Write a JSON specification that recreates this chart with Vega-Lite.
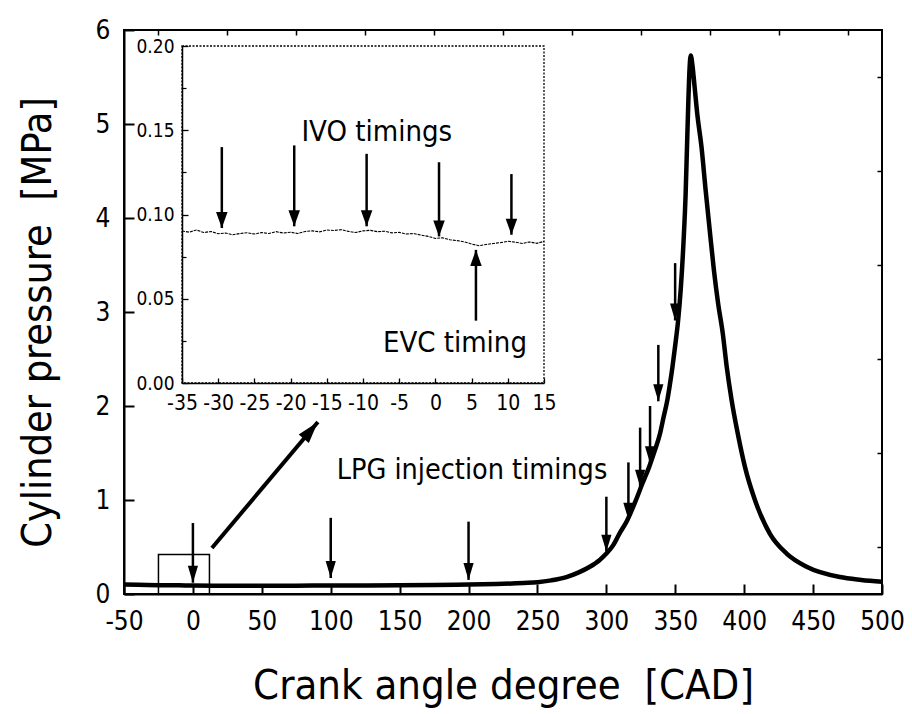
{
  "$schema": "https://vega.github.io/schema/vega-lite/v6.json",
  "width": 758,
  "height": 564,
  "autosize": {"type": "none"},
  "padding": {"left": 124, "top": 30, "right": 30, "bottom": 120},
  "background": "white",
  "datasets": {
    "curve": [
      {"cad": -50, "p": 0.100}, {"cad": -40, "p": 0.098}, {"cad": -25, "p": 0.094}, {"cad": -10, "p": 0.092},
      {"cad": 0, "p": 0.090}, {"cad": 15, "p": 0.089}, {"cad": 30, "p": 0.089}, {"cad": 50, "p": 0.089},
      {"cad": 75, "p": 0.089}, {"cad": 100, "p": 0.090}, {"cad": 125, "p": 0.091}, {"cad": 150, "p": 0.093},
      {"cad": 175, "p": 0.096}, {"cad": 200, "p": 0.100}, {"cad": 220, "p": 0.106}, {"cad": 240, "p": 0.117},
      {"cad": 250, "p": 0.125}, {"cad": 260, "p": 0.145}, {"cad": 271, "p": 0.18}, {"cad": 280, "p": 0.23},
      {"cad": 288, "p": 0.29}, {"cad": 295, "p": 0.36}, {"cad": 300, "p": 0.43}, {"cad": 305, "p": 0.52},
      {"cad": 309.4, "p": 0.64}, {"cad": 315, "p": 0.78}, {"cad": 321.5, "p": 1.00}, {"cad": 326, "p": 1.17},
      {"cad": 331, "p": 1.35}, {"cad": 335, "p": 1.52}, {"cad": 339, "p": 1.71}, {"cad": 341.5, "p": 1.88},
      {"cad": 344.2, "p": 2.06}, {"cad": 346, "p": 2.22}, {"cad": 348, "p": 2.42}, {"cad": 350, "p": 2.65},
      {"cad": 352, "p": 2.90}, {"cad": 354, "p": 3.25}, {"cad": 356, "p": 3.75}, {"cad": 357.5, "p": 4.25},
      {"cad": 358.5, "p": 4.75}, {"cad": 359.5, "p": 5.25}, {"cad": 360.4, "p": 5.6}, {"cad": 361.2, "p": 5.73},
      {"cad": 362.5, "p": 5.62}, {"cad": 364, "p": 5.40}, {"cad": 366, "p": 5.10}, {"cad": 369, "p": 4.76},
      {"cad": 372, "p": 4.30}, {"cad": 375, "p": 3.87}, {"cad": 378, "p": 3.45}, {"cad": 381.2, "p": 3.08},
      {"cad": 384.4, "p": 2.78}, {"cad": 387.3, "p": 2.42}, {"cad": 390.9, "p": 2.06}, {"cad": 395.3, "p": 1.71},
      {"cad": 400.6, "p": 1.35}, {"cad": 407.8, "p": 1.00}, {"cad": 418.7, "p": 0.64}, {"cad": 430.8, "p": 0.43},
      {"cad": 445.3, "p": 0.29}, {"cad": 469.5, "p": 0.18}, {"cad": 485, "p": 0.15}, {"cad": 500, "p": 0.13}
    ],
    "arrows": [
      {"cad": 0, "top": 0.755, "tip": 0.12},
      {"cad": 100, "top": 0.81, "tip": 0.17},
      {"cad": 200, "top": 0.77, "tip": 0.15},
      {"cad": 300, "top": 1.035, "tip": 0.45},
      {"cad": 316, "top": 1.40, "tip": 0.79},
      {"cad": 324.5, "top": 1.77, "tip": 1.14},
      {"cad": 331.7, "top": 2.0, "tip": 1.39},
      {"cad": 337.7, "top": 2.65, "tip": 2.05},
      {"cad": 349.9, "top": 3.52, "tip": 2.91}
    ],
    "zoombox": [{"x1": -25, "x2": 12, "y1": 0, "y2": 0.42}],
    "bigarrow": [{"x1": 13.8, "y1": 0.49, "x2": 90.7, "y2": 1.83}],
    "mainlabel": [{"cad": 202.5, "p": 1.32, "text": "LPG injection timings"}],
    "inset": [
      {"ca": -35, "v": 0.0902}, {"ca": -34, "v": 0.0895}, {"ca": -33, "v": 0.0908}, {"ca": -32, "v": 0.0893},
      {"ca": -31, "v": 0.0899}, {"ca": -30, "v": 0.0886}, {"ca": -29, "v": 0.0890}, {"ca": -28, "v": 0.0880},
      {"ca": -27, "v": 0.0887}, {"ca": -26, "v": 0.0892}, {"ca": -25, "v": 0.0884}, {"ca": -24, "v": 0.0893},
      {"ca": -23, "v": 0.0887}, {"ca": -22, "v": 0.0898}, {"ca": -21, "v": 0.0890}, {"ca": -20, "v": 0.0895},
      {"ca": -19, "v": 0.0887}, {"ca": -18, "v": 0.0899}, {"ca": -17, "v": 0.0903}, {"ca": -16, "v": 0.0897},
      {"ca": -15, "v": 0.0908}, {"ca": -14, "v": 0.0905}, {"ca": -13, "v": 0.0910}, {"ca": -12, "v": 0.0900},
      {"ca": -11, "v": 0.0893}, {"ca": -10, "v": 0.0903}, {"ca": -9, "v": 0.0906}, {"ca": -8, "v": 0.0898},
      {"ca": -7, "v": 0.0901}, {"ca": -6, "v": 0.0891}, {"ca": -5, "v": 0.0894}, {"ca": -4, "v": 0.0884},
      {"ca": -3, "v": 0.0887}, {"ca": -2, "v": 0.0878}, {"ca": -1, "v": 0.0870}, {"ca": 0, "v": 0.0858},
      {"ca": 1, "v": 0.0862}, {"ca": 2, "v": 0.0850}, {"ca": 3, "v": 0.0845}, {"ca": 4, "v": 0.0838},
      {"ca": 5, "v": 0.0825}, {"ca": 6, "v": 0.0815}, {"ca": 7, "v": 0.0822}, {"ca": 8, "v": 0.0828},
      {"ca": 9, "v": 0.0833}, {"ca": 10, "v": 0.0841}, {"ca": 11, "v": 0.0836}, {"ca": 12, "v": 0.0828},
      {"ca": 13, "v": 0.0837}, {"ca": 14, "v": 0.0829}, {"ca": 15, "v": 0.0840}
    ],
    "insetframe": [{"x1": -35, "x2": 15, "y1": 0, "y2": 0.2}],
    "insetarrows": [
      {"ca": -29.5, "top": 0.140, "tip": 0.092},
      {"ca": -19.5, "top": 0.141, "tip": 0.093},
      {"ca": -9.5, "top": 0.136, "tip": 0.093},
      {"ca": 0.5, "top": 0.131, "tip": 0.087},
      {"ca": 10.5, "top": 0.124, "tip": 0.088}
    ],
    "evc": [{"ca": 5.6, "bottom": 0.037, "tip": 0.079}],
    "insetlabels": [
      {"ca": -8.1, "v": 0.149, "text": "IVO timings"},
      {"ca": 2.7, "v": 0.0237, "text": "EVC timing"}
    ]
  },
  "layer": [
    {
      "layer": [
        {
          "data": {"name": "curve"},
          "mark": {"type": "line", "color": "black", "strokeWidth": 4.5, "strokeJoin": "round", "interpolate": "monotone"},
          "encoding": {
            "x": {"field": "cad", "type": "quantitative",
              "scale": {"domain": [-50, 500], "nice": false, "zero": false},
              "axis": {"values": [-50, 0, 50, 100, 150, 200, 250, 300, 350, 400, 450, 500],
                "labelExpr": "datum.value < 0 ? '-' + abs(datum.value) : '' + datum.value",
                "tickSize": -10, "tickWidth": 2, "domainWidth": 2, "labelFontSize": 26, "labelPadding": 24,
                "labelFlush": false, "labelOverlap": false,
                "title": "Crank angle degree \u00a0[CAD]", "titleFontSize": 41.5, "titleY": 104, "titleBaseline": "alphabetic"}},
            "y": {"field": "p", "type": "quantitative",
              "scale": {"domain": [0, 6], "nice": false},
              "axis": {"values": [0, 1, 2, 3, 4, 5, 6],
                "tickSize": -10, "tickWidth": 2, "domainWidth": 2, "labelFontSize": 26, "labelPadding": 24,
                "labelFlush": false, "labelOverlap": false,
                "title": "Cylinder pressure \u00a0[MPa]", "titleFontSize": 41, "titleX": -74, "titleY": 292,
                "titleAngle": 270, "titleAlign": "center", "titleBaseline": "alphabetic"}}
          }
        },
        {
          "data": {"name": "arrows"},
          "mark": {"type": "rule", "color": "black", "strokeWidth": 2.5},
          "encoding": {
            "x": {"field": "cad", "type": "quantitative",
              "scale": {"domain": [-50, 500], "nice": false, "zero": false},
              "axis": {"values": [-25, 25, 75, 125, 175, 225, 275, 325, 375, 425, 475],
                "tickSize": -5, "tickWidth": 1.5, "domain": false, "labels": false, "title": null}},
            "y": {"field": "top", "type": "quantitative",
              "scale": {"domain": [0, 6], "nice": false},
              "axis": {"values": [0.5, 1.5, 2.5, 3.5, 4.5, 5.5],
                "tickSize": -5, "tickWidth": 1.5, "domain": false, "labels": false, "title": null}},
            "y2": {"field": "tip"}
          }
        },
        {
          "data": {"name": "arrows"},
          "mark": {"type": "point", "shape": "M0,0 L-0.3,-1 L0.3,-1 Z", "filled": true, "color": "black", "size": 1156, "opacity": 1},
          "encoding": {
            "x": {"field": "cad", "type": "quantitative", "axis": null},
            "y": {"field": "tip", "type": "quantitative", "axis": null}
          }
        },
        {
          "data": {"name": "zoombox"},
          "mark": {"type": "rect", "fillOpacity": 0, "stroke": "black", "strokeWidth": 1.5},
          "encoding": {
            "x": {"field": "x1", "type": "quantitative", "axis": null},
            "x2": {"field": "x2"},
            "y": {"field": "y1", "type": "quantitative", "axis": null},
            "y2": {"field": "y2"}
          }
        },
        {
          "data": {"name": "bigarrow"},
          "mark": {"type": "rule", "color": "black", "strokeWidth": 4},
          "encoding": {
            "x": {"field": "x1", "type": "quantitative", "axis": null},
            "x2": {"field": "x2"},
            "y": {"field": "y1", "type": "quantitative", "axis": null},
            "y2": {"field": "y2"}
          }
        },
        {
          "data": {"name": "bigarrow"},
          "mark": {"type": "point", "shape": "M0,0 L-0.3,-1 L0.3,-1 Z", "filled": true, "color": "black", "size": 1936, "angle": 220, "opacity": 1},
          "encoding": {
            "x": {"field": "x2", "type": "quantitative", "axis": null},
            "y": {"field": "y2", "type": "quantitative", "axis": null}
          }
        },
        {
          "data": {"name": "mainlabel"},
          "mark": {"type": "text", "fontSize": 28.5, "color": "black", "align": "center", "baseline": "middle"},
          "encoding": {
            "x": {"field": "cad", "type": "quantitative", "axis": null},
            "y": {"field": "p", "type": "quantitative", "axis": null},
            "text": {"field": "text"}
          }
        }
      ],
      "resolve": {"axis": {"x": "independent", "y": "independent"}}
    },
    {
      "layer": [
        {
          "data": {"name": "insetframe"},
          "mark": {"type": "rect", "fillOpacity": 0, "stroke": "black", "strokeWidth": 1.3, "strokeDash": [2, 1.5]},
          "encoding": {
            "x": {"field": "x1", "type": "quantitative",
              "scale": {"domain": [-35, 15], "range": [58, 420], "nice": false, "zero": false}, "axis": null},
            "x2": {"field": "x2"},
            "y": {"field": "y1", "type": "quantitative",
              "scale": {"domain": [0, 0.2], "range": [353, 16], "nice": false}, "axis": null},
            "y2": {"field": "y2"}
          }
        },
        {
          "data": {"name": "inset"},
          "mark": {"type": "line", "color": "black", "strokeWidth": 1.1, "strokeDash": [3, 1]},
          "encoding": {
            "x": {"field": "ca", "type": "quantitative",
              "scale": {"domain": [-35, 15], "range": [58, 420], "nice": false, "zero": false},
              "axis": {"orient": "bottom", "offset": -211, "values": [-35, -30, -25, -20, -15, -10, -5, 0, 5, 10, 15],
                "labelExpr": "datum.value < 0 ? '-' + abs(datum.value) : '' + datum.value",
                "tickSize": -5, "tickWidth": 1.3, "domainWidth": 1.5, "labelFontSize": 21, "labelPadding": 14,
                "labelFlush": false, "labelOverlap": false, "title": null}},
            "y": {"field": "v", "type": "quantitative",
              "scale": {"domain": [0, 0.2], "range": [353, 16], "nice": false},
              "axis": {"orient": "left", "offset": -58, "values": [0, 0.05, 0.1, 0.15, 0.2], "format": ".2f",
                "tickSize": -6, "tickWidth": 1.3, "domainWidth": 1.5, "labelFontSize": 19, "labelPadding": 14,
                "labelFlush": false, "labelOverlap": false, "title": null}}
          }
        },
        {
          "data": {"name": "insetarrows"},
          "mark": {"type": "rule", "color": "black", "strokeWidth": 2.5},
          "encoding": {
            "x": {"field": "ca", "type": "quantitative",
              "scale": {"domain": [-35, 15], "range": [58, 420], "nice": false, "zero": false}, "axis": null},
            "y": {"field": "top", "type": "quantitative",
              "scale": {"domain": [0, 0.2], "range": [353, 16], "nice": false},
              "axis": {"orient": "left", "offset": -58, "values": [0.025, 0.075, 0.125, 0.175],
                "tickSize": -4, "tickWidth": 1.2, "domain": false, "labels": false, "title": null}},
            "y2": {"field": "tip"}
          }
        },
        {
          "data": {"name": "insetarrows"},
          "mark": {"type": "point", "shape": "M0,0 L-0.36,-1 L0.36,-1 Z", "filled": true, "color": "black", "size": 1024, "opacity": 1},
          "encoding": {
            "x": {"field": "ca", "type": "quantitative", "axis": null},
            "y": {"field": "tip", "type": "quantitative", "axis": null}
          }
        },
        {
          "data": {"name": "evc"},
          "mark": {"type": "rule", "color": "black", "strokeWidth": 2.5},
          "encoding": {
            "x": {"field": "ca", "type": "quantitative", "axis": null},
            "y": {"field": "bottom", "type": "quantitative", "axis": null},
            "y2": {"field": "tip"}
          }
        },
        {
          "data": {"name": "evc"},
          "mark": {"type": "point", "shape": "M0,0 L-0.36,-1 L0.36,-1 Z", "filled": true, "color": "black", "size": 1024, "angle": 180, "opacity": 1},
          "encoding": {
            "x": {"field": "ca", "type": "quantitative", "axis": null},
            "y": {"field": "tip", "type": "quantitative", "axis": null}
          }
        },
        {
          "data": {"name": "insetlabels"},
          "mark": {"type": "text", "fontSize": 29, "color": "black", "align": "center", "baseline": "middle"},
          "encoding": {
            "x": {"field": "ca", "type": "quantitative", "axis": null},
            "y": {"field": "v", "type": "quantitative", "axis": null},
            "text": {"field": "text"}
          }
        }
      ],
      "resolve": {"axis": {"x": "independent", "y": "independent"}}
    }
  ],
  "resolve": {"scale": {"x": "independent", "y": "independent"}, "axis": {"x": "independent", "y": "independent"}},
  "config": {
    "font": "DejaVu Sans Condensed, DejaVu Sans",
    "view": {"stroke": "black", "strokeWidth": 2},
    "axis": {"grid": false, "domainColor": "black", "tickColor": "black", "labelColor": "black", "titleColor": "black",
      "labelFont": "DejaVu Sans Condensed, DejaVu Sans", "titleFont": "DejaVu Sans Condensed, DejaVu Sans", "titleFontWeight": "normal"},
    "text": {"font": "DejaVu Sans Condensed, DejaVu Sans"}
  }
}
